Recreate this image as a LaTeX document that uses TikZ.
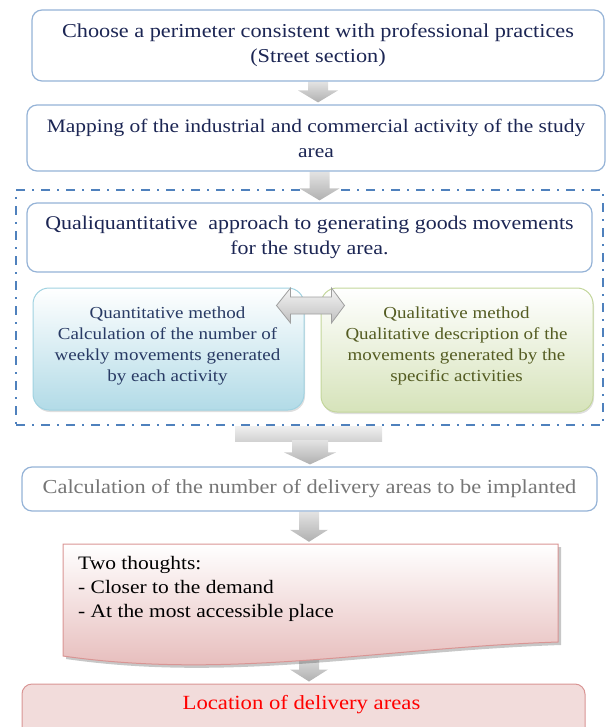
\documentclass[tikz,border=0pt]{standalone}
\usepackage{fontspec}
\setmainfont{Liberation Serif}[FakeStretch=1.13]
\usetikzlibrary{calc,shadows}
\definecolor{navytext}{RGB}{28,38,84}
\definecolor{quanttext}{RGB}{40,58,100}
\definecolor{qualtext}{RGB}{84,92,34}
\definecolor{graytext}{RGB}{118,118,118}
\definecolor{boxblue}{RGB}{149,179,215}
\definecolor{frameblue}{RGB}{79,129,189}
\definecolor{quantborder}{RGB}{160,210,225}
\definecolor{quantfill}{RGB}{178,219,231}
\definecolor{qualborder}{RGB}{195,214,155}
\definecolor{qualfill}{RGB}{214,227,186}
\definecolor{pinkborder}{RGB}{217,149,148}
\definecolor{pinkfill}{RGB}{228,182,181}
\definecolor{pinklight}{RGB}{242,220,219}
\pgfdeclarelayer{bg}
\pgfsetlayers{bg,main}
\newcommand{\downblockarrow}[5]{%
  \path[blockarrow] let \p1=(#2), \p2=(#3) in
   (#1pt-#4pt,\y1) -- (#1pt+#4pt,\y1) -- (#1pt+#4pt,\y2+14pt) -- (#1pt+#5pt,\y2+14pt)
   -- (#1pt,\y2+2pt) -- (#1pt-#5pt,\y2+14pt) -- (#1pt-#4pt,\y2+14pt) -- cycle;}
\begin{document}
\begin{tikzpicture}[x=1pt,y=-1pt,
  whitebox/.style={draw=boxblue, line width=1.2pt, fill=white, rounded corners=10pt,
     inner sep=0pt, align=center, text=navytext},
  quantbox/.style={draw=quantborder, line width=1pt, top color=white, bottom color=quantfill,
     rounded corners=16pt, inner sep=0pt,
     drop shadow={opacity=0.25, shadow xshift=1pt, shadow yshift=-2pt}},
  qualbox/.style={draw=qualborder, line width=1pt, top color=white, bottom color=qualfill,
     rounded corners=16pt, inner sep=0pt,
     drop shadow={opacity=0.25, shadow xshift=1pt, shadow yshift=-2pt}},
  blockarrow/.style={top color=gray!22, bottom color=gray!62, draw=none},
  dashframe/.style={draw=frameblue, line width=2.2pt, dash pattern=on 9pt off 7pt on 2pt off 7pt,
     inner sep=0pt},
  txt/.style={inner sep=0pt, align=center}
]
\useasboundingbox (0,0) rectangle (608,727);

% main boxes
\node[whitebox, minimum width=572pt, minimum height=71pt,
      font=\fontsize{19.7}{25}\selectfont] (b1) at (318,45.5)
  {Choose a perimeter consistent with professional practices\\(Street section)};
\node[whitebox, minimum width=578pt, minimum height=66pt,
      font=\fontsize{19}{25}\selectfont] (b2) at (316,138)
  {Mapping of the industrial and commercial activity of the study\\area};
\node[whitebox, minimum width=565pt, minimum height=69pt,
      font=\fontsize{19.4}{25}\selectfont] (b3) at (309.5,237.5)
  {Qualiquantitative\ \ approach to generating goods movements\\for the study area.};

\node[quantbox, minimum width=271pt, minimum height=122pt] (b4) at (168.5,349) {};
\node[txt, text=quanttext, font=\fontsize{16.8}{20.7}\selectfont] (b4t) at (167.5,346)
  {Quantitative method\\Calculation of the number of\\weekly movements generated\\by each activity};
\node[qualbox, minimum width=272pt, minimum height=124pt] (b5) at (457,350) {};
\node[txt, text=qualtext, font=\fontsize{16.8}{20.7}\selectfont] (b5t) at (456.5,346)
  {Qualitative method\\Qualitative description of the\\movements generated by the\\specific activities};

% double arrow between methods
\path[top color=gray!8, bottom color=gray!50, draw=gray!75, line width=0.8pt]
  let \p1=(b4.east), \p2=(b5.west) in
  (\x1-28pt,-305.5pt) -- (\x1-14pt,-288pt) -- (\x1-14pt,-297pt) -- (\x2+11pt,-297pt)
  -- (\x2+11pt,-288pt) -- (\x2+24pt,-305.5pt) -- (\x2+11pt,-323pt) -- (\x2+11pt,-314pt)
  -- (\x1-14pt,-314pt) -- (\x1-14pt,-323pt) -- cycle;

\node[whitebox, minimum width=575pt, minimum height=44pt, text=graytext,
      font=\fontsize{19.8}{25}\selectfont] (b6) at (309.5,489)
  {Calculation of the number of delivery areas to be implanted};

% document shape
\node[inner sep=0pt, minimum width=495pt, minimum height=110pt] (b7) at (310.5,599) {};
\fill[black, opacity=0.22] (66,547) -- (561,547) -- (561,645)
   .. controls (383,651) and (233,683) .. (66,659) -- cycle;
\path[draw=pinkborder, line width=1pt, top color=white, bottom color=pinkfill]
   (63,544) -- (558,544) -- (558,642)
   .. controls (380,648) and (230,680) .. (63,656) -- cycle;
\node[inner sep=0pt, align=left, anchor=north west, text=black,
      font=\fontsize{19}{24}\selectfont] (b7t) at (78,556)
  {Two thoughts:\\- Closer to the demand\\- At the most accessible place};

\node[draw=pinkborder, line width=1pt, fill=pinklight, rounded corners=10pt, inner sep=0pt,
      minimum width=563pt, minimum height=54pt] (b8) at (303.5,711) {};
\node[inner sep=0pt, anchor=base, text=red, font=\fontsize{20.1}{25}\selectfont] (b8t)
  at (301.5,709) {Location of delivery areas};

% background layer: frame and block arrows
\begin{pgfonlayer}{bg}
\node[dashframe, minimum width=587pt, minimum height=235pt] (frame) at (309.5,307.5) {};
\downblockarrow{318}{b1.south}{b2.north}{10}{20}
\downblockarrow{319.5}{b2.south}{b3.north}{10}{20}
\path[top color=gray!12, bottom color=gray!35, draw=none]
  let \p1=(frame.south) in (235pt,\y1) rectangle (382pt,-441pt);
\coordinate (wb) at (310,440);
\downblockarrow{310}{wb}{b6.north}{18}{26}
\downblockarrow{309}{b6.south}{b7.north}{10}{19}
\downblockarrow{309}{b7.south}{b8.north}{10}{19}
\end{pgfonlayer}
\end{tikzpicture}
\end{document}
